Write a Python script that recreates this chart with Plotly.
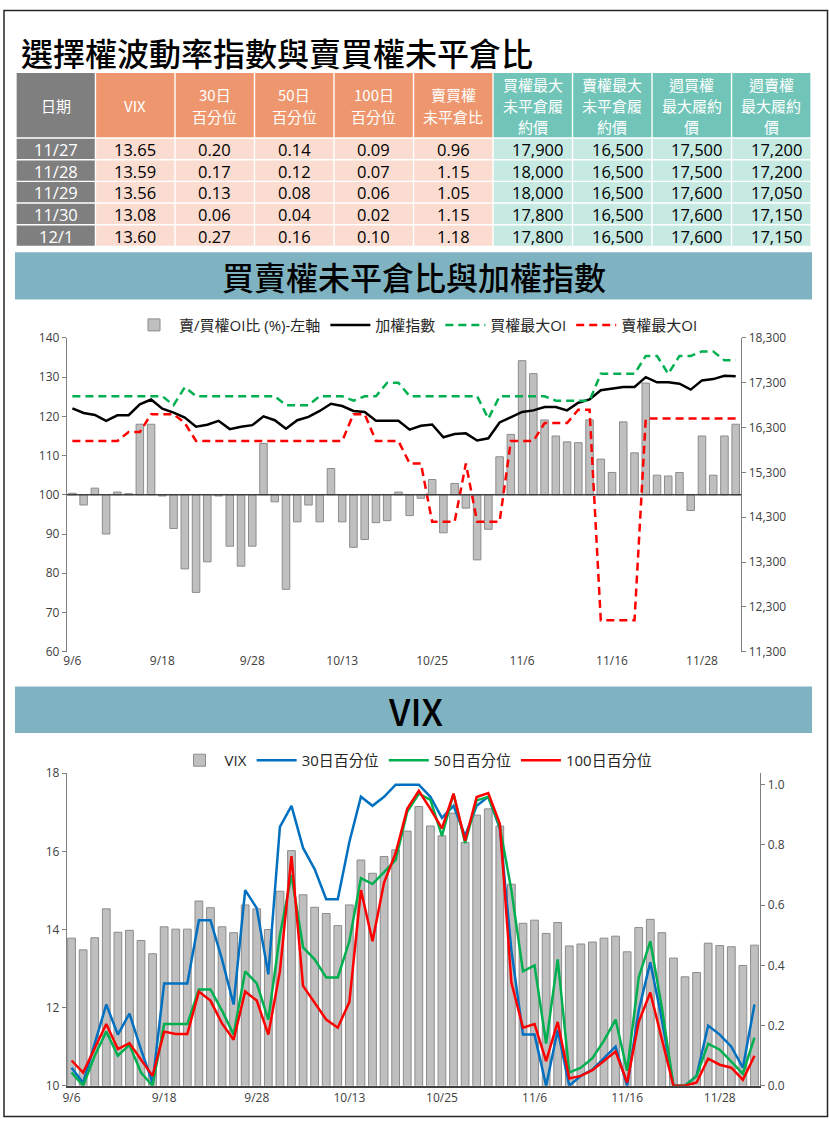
import plotly.graph_objects as go

W, H = 829, 1126

# ---------------- data ----------------
dates = ["9/6", "9/7", "9/8", "9/11", "9/12", "9/13", "9/14", "9/15",
         "9/18", "9/19", "9/20", "9/21", "9/22", "9/25", "9/26", "9/27",
         "9/28", "10/2", "10/3", "10/4", "10/5", "10/6", "10/11", "10/12",
         "10/13", "10/16", "10/17", "10/18", "10/19", "10/20", "10/23", "10/24",
         "10/25", "10/26", "10/27", "10/30", "10/31", "11/1", "11/2", "11/3",
         "11/6", "11/7", "11/8", "11/9", "11/10", "11/13", "11/14", "11/15",
         "11/16", "11/17", "11/20", "11/21", "11/22", "11/23", "11/24", "11/27",
         "11/28", "11/29", "11/30", "12/1"]
tick_dates = ["9/6", "9/18", "9/28", "10/13", "10/25", "11/6", "11/16", "11/28"]

oi_ratio = [100.4, 97.4, 101.7, 90.0, 100.7, 100.3, 118.0, 118.0, 99.7, 91.4,
            81.1, 75.1, 82.9, 99.7, 86.9, 81.8, 86.9, 113.1, 98.2, 75.9,
            93.1, 97.4, 93.1, 106.7, 93.1, 86.6, 88.6, 92.9, 93.4, 100.7,
            94.7, 99.1, 103.9, 90.3, 102.9, 96.6, 83.4, 91.2, 109.7, 115.4,
            134.2, 130.9, 119.1, 115.0, 113.5, 113.3, 119.1, 109.1, 105.7, 118.6,
            110.7, 128.5, 105.0, 104.8, 105.7, 96.0, 115.0, 105.0, 115.0, 118.0]

taiex = [16728, 16627, 16583, 16451, 16575, 16575, 16817, 16927, 16722, 16634,
         16524, 16319, 16363, 16451, 16266, 16319, 16354, 16552, 16464, 16275,
         16464, 16539, 16671, 16832, 16781, 16671, 16649, 16451, 16451, 16451,
         16253, 16341, 16370, 16083, 16156, 16171, 16011, 16061, 16414, 16539,
         16649, 16684, 16759, 16759, 16684, 16854, 16927, 17133, 17169, 17206,
         17206, 17426, 17309, 17309, 17279, 17147, 17353, 17382, 17455, 17448]

call_max_oi = [17000, 17000, 17000, 17000, 17000, 17000, 17000, 17000, 17000, 16800,
               17200, 17000, 17000, 17000, 17000, 17000, 17000, 17000, 17000, 16800,
               16800, 16800, 17000, 17000, 17000, 16900, 17000, 17000, 17300, 17300,
               17000, 17000, 17000, 17000, 17000, 17000, 17000, 16500, 17000, 17000,
               17000, 17000, 17000, 16900, 16900, 16900, 16900, 17500, 17500, 17500,
               17500, 17900, 17900, 17500, 17900, 17900, 18000, 18000, 17800, 17800]

put_max_oi = [16000, 16000, 16000, 16000, 16000, 16200, 16200, 16600, 16600, 16600,
              16400, 16000, 16000, 16000, 16000, 16000, 16000, 16000, 16000, 16000,
              16000, 16000, 16000, 16000, 16000, 16600, 16600, 16000, 16000, 16000,
              15500, 15500, 14200, 14200, 14200, 15500, 14200, 14200, 14200, 16000,
              16000, 16000, 16400, 16400, 16400, 16700, 16700, 12000, 12000, 12000,
              12000, 16500, 16500, 16500, 16500, 16500, 16500, 16500, 16500, 16500]

vix = [13.78, 13.48, 13.79, 14.53, 13.93, 13.98, 13.72, 13.38, 14.07, 14.01,
       14.01, 14.73, 14.56, 14.07, 13.92, 14.63, 14.53, 14.00, 14.98, 16.02,
       14.89, 14.57, 14.41, 14.10, 14.63, 15.78, 15.44, 15.87, 16.04, 16.52,
       17.15, 16.65, 16.40, 16.98, 16.23, 16.93, 17.09, 16.65, 15.16, 14.16,
       14.24, 13.90, 14.18, 13.58, 13.63, 13.68, 13.78, 13.83, 13.43, 14.05,
       14.26, 13.92, 13.27, 12.79, 12.90, 13.65, 13.59, 13.56, 13.08, 13.60]

pct30 = [0.06, 0.01, 0.14, 0.27, 0.17, 0.24, 0.12, 0.01, 0.34, 0.34,
         0.34, 0.55, 0.55, 0.42, 0.27, 0.65, 0.59, 0.37, 0.86, 0.93,
         0.79, 0.72, 0.62, 0.62, 0.81, 0.96, 0.93, 0.96, 1.00, 1.00,
         1.00, 0.96, 0.89, 0.93, 0.83, 0.93, 0.96, 0.855, 0.45, 0.17,
         0.17, 0.00, 0.185, 0.00, 0.033, 0.054, 0.092, 0.13, 0.00, 0.25,
         0.41, 0.22, 0.00, 0.00, 0.033, 0.20, 0.17, 0.13, 0.06, 0.27]

pct50 = [0.044, 0.00, 0.10, 0.18, 0.10, 0.136, 0.044, 0.00, 0.205, 0.205,
         0.205, 0.32, 0.32, 0.25, 0.17, 0.38, 0.34, 0.22, 0.50, 0.70,
         0.46, 0.42, 0.36, 0.36, 0.48, 0.69, 0.67, 0.71, 0.75, 0.91,
         0.97, 0.95, 0.83, 0.97, 0.806, 0.948, 0.96, 0.86, 0.65, 0.38,
         0.40, 0.14, 0.42, 0.044, 0.06, 0.092, 0.15, 0.22, 0.05, 0.36,
         0.48, 0.26, 0.00, 0.00, 0.033, 0.14, 0.12, 0.08, 0.04, 0.16]

pct100 = [0.084, 0.044, 0.125, 0.205, 0.122, 0.142, 0.087, 0.033, 0.18, 0.172,
          0.172, 0.313, 0.283, 0.207, 0.153, 0.313, 0.283, 0.17, 0.38, 0.763,
          0.332, 0.278, 0.22, 0.193, 0.278, 0.65, 0.48, 0.675, 0.773, 0.92,
          0.98, 0.92, 0.855, 0.97, 0.814, 0.959, 0.972, 0.87, 0.343, 0.193,
          0.205, 0.082, 0.212, 0.024, 0.033, 0.052, 0.082, 0.114, 0.011, 0.212,
          0.31, 0.16, 0.00, 0.00, 0.011, 0.09, 0.07, 0.06, 0.02, 0.10]

# table data
tbl_dates = ["11/27", "11/28", "11/29", "11/30", "12/1"]
tbl_vix = [13.65, 13.59, 13.56, 13.08, 13.60]
tbl_p30 = [0.20, 0.17, 0.13, 0.06, 0.27]
tbl_p50 = [0.14, 0.12, 0.08, 0.04, 0.16]
tbl_p100 = [0.09, 0.07, 0.06, 0.02, 0.10]
tbl_pcr = [0.96, 1.15, 1.05, 1.15, 1.18]
tbl_call_strike = [17900, 18000, 18000, 17800, 17800]
tbl_put_strike = [16500, 16500, 16500, 16500, 16500]
tbl_wk_call = [17500, 17500, 17600, 17600, 17600]
tbl_wk_put = [17200, 17200, 17050, 17150, 17150]
tbl_headers = ["日期", "VIX", "30日<br>百分位", "50日<br>百分位", "100日<br>百分位",
               "賣買權<br>未平倉比", "買權最大<br>未平倉履<br>約價", "賣權最大<br>未平倉履<br>約價",
               "週買權<br>最大履約<br>價", "週賣權<br>最大履約<br>價"]

BASE = 100  # horizontal axis crossing of the ratio bars

# ---------------- styles ----------------
GRAY_HDR = "#7F7F7F"
ORANGE_HDR = "#EE976E"
ORANGE_BODY = "#FADCD0"
TEAL_HDR = "#71C5B8"
TEAL_BODY = "#C6E9E2"
BANNER = "#7FB3C1"
CJK = "Noto Sans CJK TC"
LAT = "Open Sans, Noto Sans CJK TC"


def px(x):
    return x / W


def py(y):
    return 1 - y / H


fig = go.Figure()

# ---------------- chart 1 ----------------
fig.add_trace(go.Bar(x=dates, y=[v - BASE for v in oi_ratio], base=BASE,
                     name="賣/買權OI比 (%)-左軸",
                     marker=dict(color="#BFBFBF", line=dict(color="#8C8C8C", width=1)),
                     xaxis="x", yaxis="y", legend="legend"))
fig.add_trace(go.Scatter(x=dates, y=taiex, name="加權指數", mode="lines",
                         line=dict(color="black", width=2.5),
                         xaxis="x", yaxis="y2", legend="legend"))
fig.add_trace(go.Scatter(x=dates, y=call_max_oi, name="買權最大OI", mode="lines",
                         line=dict(color="#00B050", width=2.5, dash="8px,5px"),
                         xaxis="x", yaxis="y2", legend="legend"))
fig.add_trace(go.Scatter(x=dates, y=put_max_oi, name="賣權最大OI", mode="lines",
                         line=dict(color="#FF0000", width=2.5, dash="8px,5px"),
                         xaxis="x", yaxis="y2", legend="legend"))

# ---------------- chart 2 ----------------
fig.add_trace(go.Bar(x=dates, y=vix, name="VIX",
                     marker=dict(color="#BFBFBF", line=dict(color="#8C8C8C", width=1)),
                     xaxis="x2", yaxis="y3", legend="legend2"))
fig.add_trace(go.Scatter(x=dates, y=pct30, name="30日百分位", mode="lines",
                         line=dict(color="#0070C0", width=2.5),
                         xaxis="x2", yaxis="y4", legend="legend2"))
fig.add_trace(go.Scatter(x=dates, y=pct50, name="50日百分位", mode="lines",
                         line=dict(color="#00B050", width=2.5),
                         xaxis="x2", yaxis="y4", legend="legend2"))
fig.add_trace(go.Scatter(x=dates, y=pct100, name="100日百分位", mode="lines",
                         line=dict(color="#FF0000", width=2.5),
                         xaxis="x2", yaxis="y4", legend="legend2"))

# ---------------- table (cells as shapes, text as annotations) ----------------
TBL_X0, TBL_X1 = 13, 811
NCOL = len(tbl_headers)
COL_W = (TBL_X1 - TBL_X0) / NCOL
HDR_Y0, HDR_Y1 = 65, 131
ROW_H = 22
LINE_H = 21.5
GAP = 0.7

hdr_fill = [GRAY_HDR] + [ORANGE_HDR] * 5 + [TEAL_HDR] * 4
body_fill = [GRAY_HDR] + [ORANGE_BODY] * 5 + [TEAL_BODY] * 4
body_font = ["white"] + ["black"] * 9
body_shift = [0] * 6 + [5] * 4
body_cols = [tbl_dates,
             [f"{v:.2f}" for v in tbl_vix],
             [f"{v:.2f}" for v in tbl_p30],
             [f"{v:.2f}" for v in tbl_p50],
             [f"{v:.2f}" for v in tbl_p100],
             [f"{v:.2f}" for v in tbl_pcr],
             [f"{v:,}" for v in tbl_call_strike],
             [f"{v:,}" for v in tbl_put_strike],
             [f"{v:,}" for v in tbl_wk_call],
             [f"{v:,}" for v in tbl_wk_put]]

shapes = []
annotations = []
for c in range(NCOL):
    x0 = TBL_X0 + c * COL_W + GAP
    x1 = TBL_X0 + (c + 1) * COL_W - GAP
    xc = (x0 + x1) / 2
    shapes.append(dict(type="rect", xref="paper", yref="paper", x0=px(x0), x1=px(x1),
                       y0=py(HDR_Y1 - GAP), y1=py(HDR_Y0), line=dict(width=0),
                       fillcolor=hdr_fill[c], layer="below"))
    lines = tbl_headers[c].split("<br>")
    n = len(lines)
    yc = (HDR_Y0 + HDR_Y1) / 2
    for j, t in enumerate(lines):
        annotations.append(dict(text=t, xref="paper", yref="paper", x=px(xc),
                                y=py(yc + (j - (n - 1) / 2) * LINE_H),
                                xanchor="center", yanchor="middle", showarrow=False,
                                font=dict(size=15, color="white", family=CJK)))
    for r, val in enumerate(body_cols[c]):
        y0 = HDR_Y1 + r * ROW_H + GAP
        y1 = HDR_Y1 + (r + 1) * ROW_H - GAP
        shapes.append(dict(type="rect", xref="paper", yref="paper", x0=px(x0), x1=px(x1),
                           y0=py(y1), y1=py(y0), line=dict(width=0),
                           fillcolor=body_fill[c], layer="below"))
        annotations.append(dict(text=val, xref="paper", yref="paper", x=px(xc + body_shift[c]),
                                y=py((y0 + y1) / 2 + 0.5), xanchor="center", yanchor="middle",
                                showarrow=False,
                                font=dict(size=16.5, color=body_font[c], family=LAT)))

shapes += [
    dict(type="rect", xref="paper", yref="paper", x0=px(1), x1=px(827.5), y0=py(1124.5), y1=py(1.5),
         line=dict(color="#262626", width=1.5), fillcolor="rgba(0,0,0,0)"),
    dict(type="rect", xref="paper", yref="paper", x0=px(12), x1=px(812), y0=py(295), y1=py(247),
         line=dict(width=0), fillcolor=BANNER, layer="below"),
    dict(type="rect", xref="paper", yref="paper", x0=px(12), x1=px(812), y0=py(735), y1=py(688),
         line=dict(width=0), fillcolor=BANNER, layer="below"),
    dict(type="line", xref="x domain", yref="y", x0=0, x1=1, y0=BASE, y1=BASE,
         line=dict(color="#404040", width=1.5), layer="above"),
]

annotations += [
    dict(text="選擇權波動率指數與賣買權未平倉比", xref="paper", yref="paper",
         x=px(16), y=py(44), xanchor="left", yanchor="middle", showarrow=False,
         font=dict(size=32, color="black", family=CJK, weight=500)),
    dict(text="買賣權未平倉比與加權指數", xref="paper", yref="paper",
         x=px(412), y=py(271), xanchor="center", yanchor="middle", showarrow=False,
         font=dict(size=32, color="black", family=CJK, weight=500)),
    dict(text="VIX", xref="paper", yref="paper",
         x=px(414), y=py(712), xanchor="center", yanchor="middle", showarrow=False,
         font=dict(size=36, color="black", family=CJK, weight=500)),
]

tickfont = dict(size=12, color="#404040", family=LAT)
yax = dict(showgrid=False, zeroline=False, showline=True, linecolor="#7F7F7F", linewidth=1,
           ticks="outside", ticklen=4, tickcolor="#7F7F7F", tickfont=tickfont)
legfont = dict(size=15, color="#262626", family=LAT)

fig.update_layout(
    width=W, height=H, margin=dict(l=0, r=0, t=0, b=0), autosize=False,
    paper_bgcolor="white", plot_bgcolor="white",
    font=dict(family=LAT, color="#262626"),
    bargap=0.33, showlegend=True,
    xaxis=dict(domain=[px(64), px(741)], anchor="y", type="category",
               tickmode="array", tickvals=tick_dates, ticktext=tick_dates,
               showline=False, ticks="", showgrid=False, tickfont=tickfont),
    yaxis=dict(domain=[py(652.5), py(334)], range=[60, 140], dtick=10, **yax),
    yaxis2=dict(overlaying="y", side="right", anchor="x", range=[11300, 18300],
                tick0=11300, dtick=1000, tickformat=",", **yax),
    xaxis2=dict(domain=[px(63), px(760)], anchor="y3", type="category",
                tickmode="array", tickvals=tick_dates, ticktext=tick_dates,
                showline=True, linecolor="#404040", linewidth=1.5, ticks="", showgrid=False,
                tickfont=tickfont),
    yaxis3=dict(domain=[py(1093.3), py(776)], range=[10, 18], dtick=2, **yax),
    yaxis4=dict(overlaying="y3", side="right", anchor="x2", range=[0, 1.038],
                tickvals=[0, 0.2, 0.4, 0.6, 0.8, 1.0], tickformat=".1f", **yax),
    legend=dict(orientation="h", x=0.5, xanchor="center", y=py(321), yanchor="middle",
                font=legfont, itemwidth=40, bgcolor="rgba(0,0,0,0)"),
    legend2=dict(orientation="h", x=0.5, xanchor="center", y=py(763), yanchor="middle",
                 font=legfont, itemwidth=40, bgcolor="rgba(0,0,0,0)"),
    shapes=shapes,
    annotations=annotations,
)

fig.write_html("out.html",
               config={"displayModeBar": False},
               post_script="document.documentElement.style.margin='0';"
                           "document.body.style.margin='0';"
                           "document.documentElement.style.overflow='hidden';"
                           "document.body.style.overflow='hidden';"
                           "var gd=document.getElementById('{plot_id}');"
                           "gd.style.position='fixed';gd.style.top='0px';gd.style.left='0px';")
